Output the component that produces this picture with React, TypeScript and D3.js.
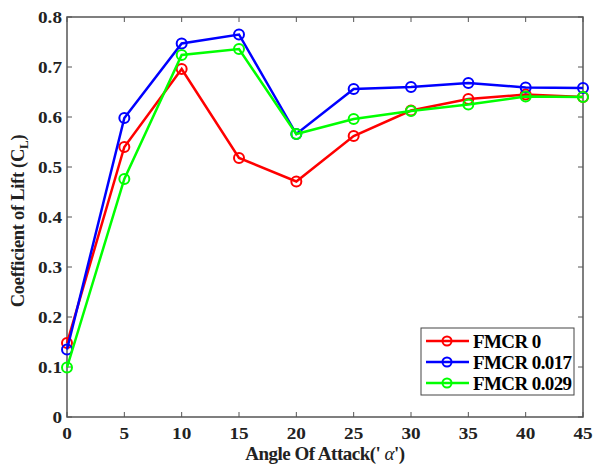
import React from "react";
import * as d3 from "d3";

const angles = [0, 5, 10, 15, 20, 25, 30, 35, 40, 45];
const fmcr0 = [0.148, 0.54, 0.696, 0.518, 0.471, 0.562, 0.613, 0.636, 0.645, 0.64];
const fmcr017 = [0.135, 0.598, 0.747, 0.765, 0.566, 0.656, 0.66, 0.668, 0.659, 0.658];
const fmcr029 = [0.099, 0.476, 0.724, 0.736, 0.566, 0.596, 0.612, 0.625, 0.641, 0.64];
const seriesNames = ["FMCR 0", "FMCR 0.017", "FMCR 0.029"];
const seriesColors = ["#ff0000", "#0000ff", "#00ff00"];
const xTicks = [0, 5, 10, 15, 20, 25, 30, 35, 40, 45];
const yTicks = [0, 0.1, 0.2, 0.3, 0.4, 0.5, 0.6, 0.7, 0.8];

const tf: React.CSSProperties = { fontFamily: '"Liberation Serif"', fontWeight: "bold" };

export default function App() {
  const W = 593, H = 470;
  const left = 67, right = 583, top = 17, bottom = 417;
  const x = d3.scaleLinear().domain([0, 45]).range([left, right]);
  const y = d3.scaleLinear().domain([0, 0.8]).range([bottom, top]);
  const allSeries = [fmcr0, fmcr017, fmcr029];
  const line = d3.line<[number, number]>().x(d => x(d[0])).y(d => y(d[1]));
  const axisColor = "#555";
  const tk = 5;
  return (
    <svg width={W} height={H} style={{ position: "absolute", left: 0, top: 0, background: "#fff" }}>
      <rect x={0} y={0} width={W} height={H} fill="#fff" />
      {xTicks.map(t => (
        <g key={"xt" + t}>
          <line x1={x(t)} x2={x(t)} y1={bottom} y2={bottom - tk} stroke={axisColor} strokeWidth={1} />
          <line x1={x(t)} x2={x(t)} y1={top} y2={top + tk} stroke={axisColor} strokeWidth={1} />
          <text transform={`translate(${x(t)},439) scale(1.2,1)`} textAnchor="middle" fontSize={16} fill="#222" style={tf}>{t}</text>
        </g>
      ))}
      {yTicks.map(t => (
        <g key={"yt" + t}>
          <line x1={left} x2={left + tk} y1={y(t)} y2={y(t)} stroke={axisColor} strokeWidth={1} />
          <line x1={right} x2={right - tk} y1={y(t)} y2={y(t)} stroke={axisColor} strokeWidth={1} />
          <text transform={`translate(62,${y(t) + 5.5}) scale(1.2,1)`} textAnchor="end" fontSize={16} fill="#222" style={tf}>{t === 0 ? "0" : t.toFixed(1)}</text>
        </g>
      ))}
      <rect x={left} y={top} width={right - left} height={bottom - top} fill="none" stroke={axisColor} strokeWidth={1.5} />
      {allSeries.map((s, i) => {
        const pts: [number, number][] = angles.map((a, j) => [a, s[j]]);
        return (
          <g key={"s" + i}>
            <path d={line(pts) || ""} fill="none" stroke={seriesColors[i]} strokeWidth={2.5} />
            {pts.map((p, j) => (
              <circle key={j} cx={x(p[0])} cy={y(p[1])} r={5} fill="none" stroke={seriesColors[i]} strokeWidth={2} />
            ))}
          </g>
        );
      })}
      <rect x={421} y={328} width={153} height={67} fill="#fff" stroke="#444" strokeWidth={1} />
      {seriesNames.map((n, i) => {
        const ly = 341 + i * 21;
        return (
          <g key={"l" + i}>
            <line x1={426} x2={469} y1={ly} y2={ly} stroke={seriesColors[i]} strokeWidth={2.5} />
            <circle cx={447} cy={ly} r={4.5} fill="none" stroke={seriesColors[i]} strokeWidth={2} />
            <text x={473} y={ly + 6.5} fontSize={19} letterSpacing={-0.6} fill="#000" style={tf}>{n}</text>
          </g>
        );
      })}
      <text x={325} y={460} textAnchor="middle" fontSize={19} letterSpacing={-0.5} fill="#222" style={tf}>
        Angle Of Attack(' <tspan fontStyle="italic" fontWeight="normal">α</tspan>')
      </text>
      <text transform={`translate(24, 221) rotate(-90)`} textAnchor="middle" fontSize={18.5} letterSpacing={-0.3} fill="#222" style={tf}>
        Coefficient of Lift (C<tspan fontSize={13} dy={4}>L</tspan><tspan dy={-4}>)</tspan>
      </text>
    </svg>
  );
}
